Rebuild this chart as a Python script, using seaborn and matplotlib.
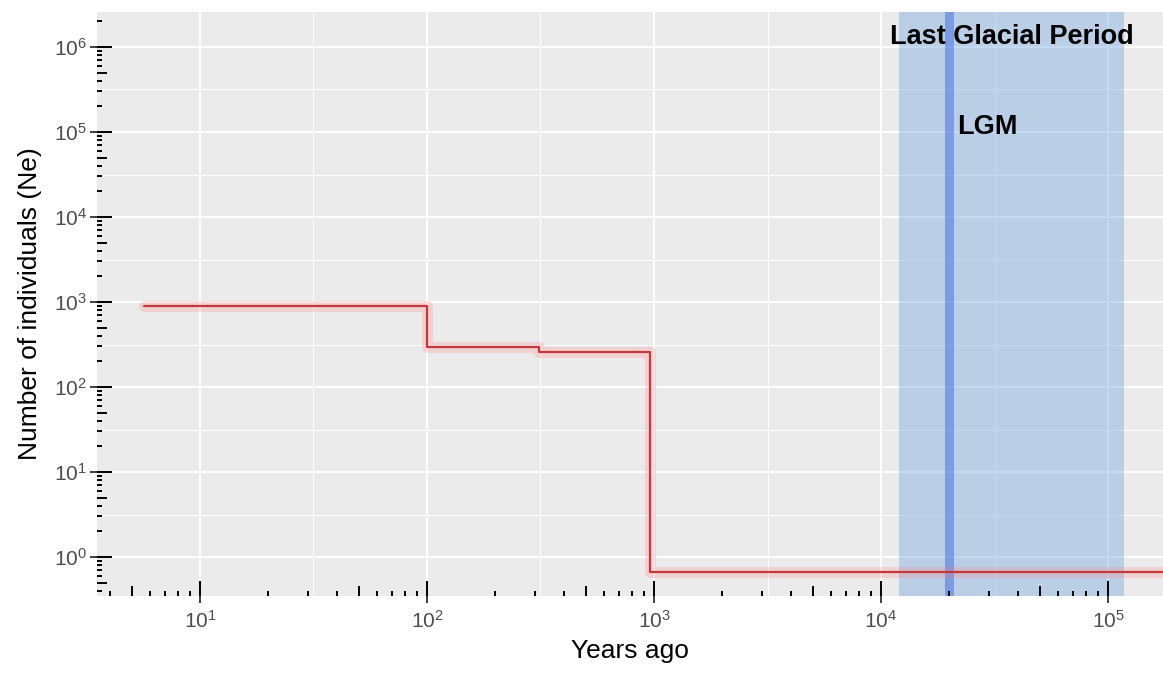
import numpy as np
import seaborn as sns
import matplotlib.pyplot as plt

# step history of effective population size
years_ago = [5.65, 100, 310, 965, 175000]
ne_values = [890, 299, 261, 0.667, 0.667]

# last glacial period and LGM
glacial_start = 12000
glacial_end = 117000
lgm_year = 20000

label_glacial = "Last Glacial Period"
label_lgm = "LGM"

sns.set_theme(style="darkgrid", rc={
    "axes.facecolor": "#EBEBEB",
    "grid.color": "white",
    "axes.edgecolor": "#EBEBEB",
    "axes.linewidth": 0,
})
plt.rcParams["font.family"] = ["Liberation Sans", "DejaVu Sans"]
plt.rcParams["mathtext.fontset"] = "custom"
plt.rcParams["mathtext.rm"] = "Liberation Sans"

fig = plt.figure(figsize=(11.63, 6.78), dpi=100)
ax = fig.add_axes([97 / 1163, 1 - 596 / 678, 1 - 97 / 1163, (596 - 12) / 678])
ax.set_xscale("log")
ax.set_yscale("log")
xlim = (3.52, 174600)
ylim = (0.348, 2.58e6)

# shaded period + LGM line
ax.axvspan(glacial_start, glacial_end, color="#7FAFE0", alpha=0.45, lw=0, zorder=1)
ax.axvline(lgm_year, color="royalblue", alpha=0.5, lw=6.5, zorder=1.5)

# step line with soft halo
sns.lineplot(x=years_ago, y=ne_values, ax=ax, drawstyle="steps-post",
             color="#FF8080", alpha=0.25, lw=8, zorder=2)
sns.lineplot(x=years_ago, y=ne_values, ax=ax, drawstyle="steps-post",
             color="#C43A3C", lw=1.6, zorder=3)

ax.text(37700, 1.31e6, label_glacial, ha="center", va="center",
        fontsize=19.5, fontweight="bold", color="black")
ax.text(29500, 1.15e5, label_lgm, ha="center", va="center",
        fontsize=19.5, fontweight="bold", color="black")

# gridlines: major at decades, minor halfway
ax.set_xticks([10.0 ** k for k in range(1, 6)])
ax.set_yticks([10.0 ** k for k in range(0, 7)])
ax.set_xticks([10.0 ** (k + 0.5) for k in range(0, 6)], minor=True)
ax.set_yticks([10.0 ** (k + 0.5) for k in range(-1, 7)], minor=True)
ax.set_xticklabels([], minor=True)
ax.set_yticklabels([], minor=True)
ax.set_xlim(xlim)
ax.set_ylim(ylim)
ax.grid(which="major", color="white", lw=1.4)
ax.grid(which="minor", color="white", lw=0.7)
ax.tick_params(which="major", direction="out", length=5, width=1.3,
               color="#333333", labelcolor="#4D4D4D", labelsize=15, pad=2,
               bottom=True, left=True)
ax.tick_params(axis="x", which="major", pad=5)
ax.tick_params(which="minor", length=0)

# log ticks drawn inside the panel (annotation_logticks style)
xt = ax.get_xaxis_transform()
yt = ax.get_yaxis_transform()
for k in range(0, 6):
    for m in range(1, 10):
        v = m * 10.0 ** k
        if xlim[0] <= v <= xlim[1]:
            h = 0.026 if m == 1 else (0.017 if m == 5 else 0.009)
            ax.plot([v, v], [0, h], transform=xt, color="black", lw=1.4,
                    solid_capstyle="butt", zorder=4, clip_on=False)
for k in range(-1, 7):
    for m in range(1, 10):
        v = m * 10.0 ** k
        if ylim[0] <= v <= ylim[1]:
            w = 0.0145 if m == 1 else (0.0095 if m == 5 else 0.005)
            ax.plot([0, w], [v, v], transform=yt, color="black", lw=1.4,
                    solid_capstyle="butt", zorder=4, clip_on=False)

ax.set_xlabel("Years ago", fontsize=19, color="black", labelpad=5)
ax.set_ylabel("Number of individuals (Ne)", fontsize=19, color="black", labelpad=9)

fig.savefig("out.png", dpi=100)
